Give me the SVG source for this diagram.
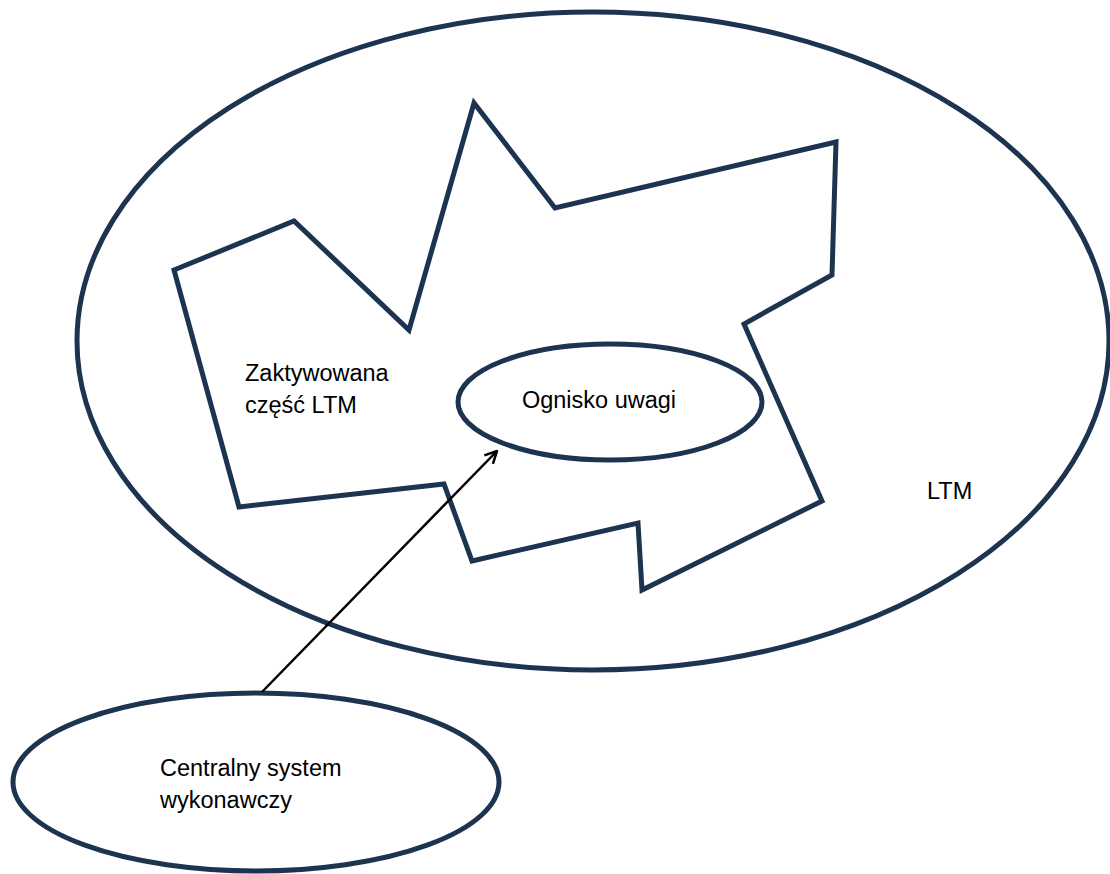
<svg xmlns="http://www.w3.org/2000/svg" width="1110" height="874" viewBox="0 0 1110 874">
<style>
.shape{fill:none;stroke:#1d3450;stroke-width:5;stroke-linejoin:miter}
.fillw{fill:#ffffff;stroke:#1d3450;stroke-width:5}
.lbl{font-family:"Liberation Sans",Arial,sans-serif;font-size:23.5px;fill:#000}
.conn{stroke:#000;stroke-width:2.5;fill:none}
</style>
<defs>
<marker id="arr" viewBox="0 0 14 14" refX="13" refY="7" markerWidth="14" markerHeight="14" markerUnits="userSpaceOnUse" orient="auto">
<path d="M1,1 L13,7 L1,13" fill="none" stroke="#000" stroke-width="2.5"/>
</marker>
</defs>
<g id="ltm">
<ellipse class="shape" cx="593" cy="341" rx="516" ry="329"/>
<text class="lbl" x="927" y="499">LTM</text>
</g>
<g id="activated">
<polygon class="shape" points="174,270 294,221 409,330 474,103 555,208 836,142 832,275 744,324 822,501 642,590 638,523 472,561 444,484 239,507"/>
<text class="lbl" x="245" y="381">Zaktywowana</text>
<text class="lbl" x="245" y="413">część LTM</text>
</g>
<g id="focus">
<ellipse class="fillw" cx="610" cy="402" rx="152" ry="58"/>
<text class="lbl" x="599" y="408" text-anchor="middle">Ognisko uwagi</text>
</g>
<g id="central">
<ellipse class="fillw" cx="256" cy="782" rx="243" ry="89"/>
<text class="lbl" x="160" y="776">Centralny system</text>
<text class="lbl" x="160" y="808">wykonawczy</text>
</g>
<g id="connectors">
<line class="conn" x1="262" y1="692" x2="497" y2="451" marker-end="url(#arr)"/>
</g>
</svg>
